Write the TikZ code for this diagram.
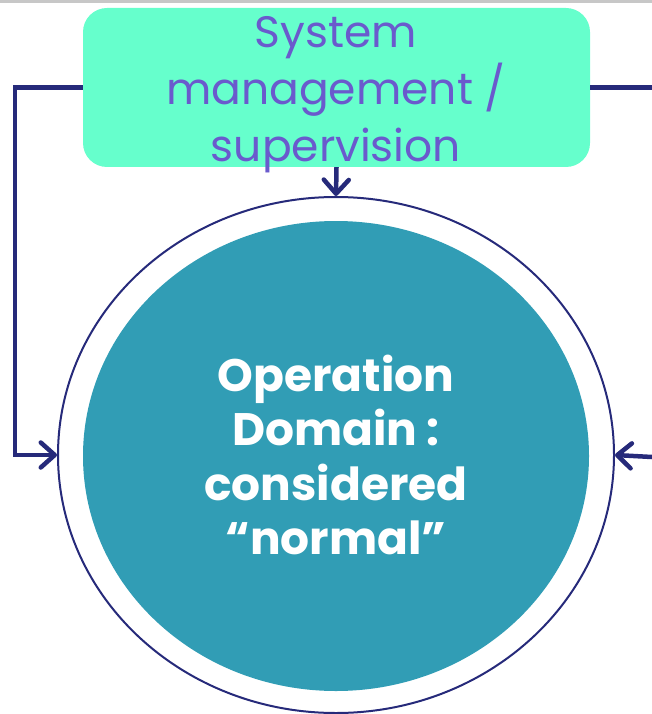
\documentclass[tikz,border=0pt]{standalone}
\usepackage{fontspec}
\setmainfont{Poppins}
\usetikzlibrary{arrows.meta,shapes.geometric}
\definecolor{navy}{HTML}{262A7A}
\definecolor{mint}{HTML}{66FFCC}
\definecolor{teal2}{HTML}{319DB5}
\definecolor{violet2}{HTML}{6A5ACD}
\tikzset{
  conn/.style={draw=navy, line width=4.5pt},
  tipped/.style={conn, -{Straight Barb[length=14pt,width=25pt,round]}},
  topbox/.style={rectangle, rounded corners=24pt, fill=mint, minimum width=507pt, minimum height=159pt, inner sep=0pt},
  ring/.style={ellipse, draw=navy, line width=2pt, minimum width=556pt, minimum height=516pt, inner sep=0pt},
  core/.style={ellipse, fill=teal2, minimum width=506pt, minimum height=470pt, inner sep=0pt},
}
\begin{document}
\begin{tikzpicture}[x=1pt,y=-1pt]
\useasboundingbox (0,0) rectangle (652,714);
\fill[black!22] (0,0) rectangle (652,3);
\node[ring] (outer) at (336,455) {};
\node[core] (inner) at (336,456) {};
\node[align=center, text=white, font=\fontsize{45.5}{54.5}\selectfont\bfseries] (domain) at (336,455) {Operation\\Domain :\\considered\\“normal”};
\node[topbox] (box) at (336.5,87.5) {};
\node[align=center, text=violet2, font=\fontsize{44}{57}\selectfont] (boxtext) at (336,95) {System\\management /\\supervision};
\coordinate (ltop) at (15,87.5);
\coordinate (rtop) at (652,87.5);
\coordinate (rin) at (652,457);
\draw[conn] (box.east) -- (rtop);
\draw[tipped] (box.west) -- (ltop) |- (outer.west);
\draw[tipped] (rin) -- (outer.east);
\draw[tipped] (box.south) -- (outer.north);
\end{tikzpicture}
\end{document}
